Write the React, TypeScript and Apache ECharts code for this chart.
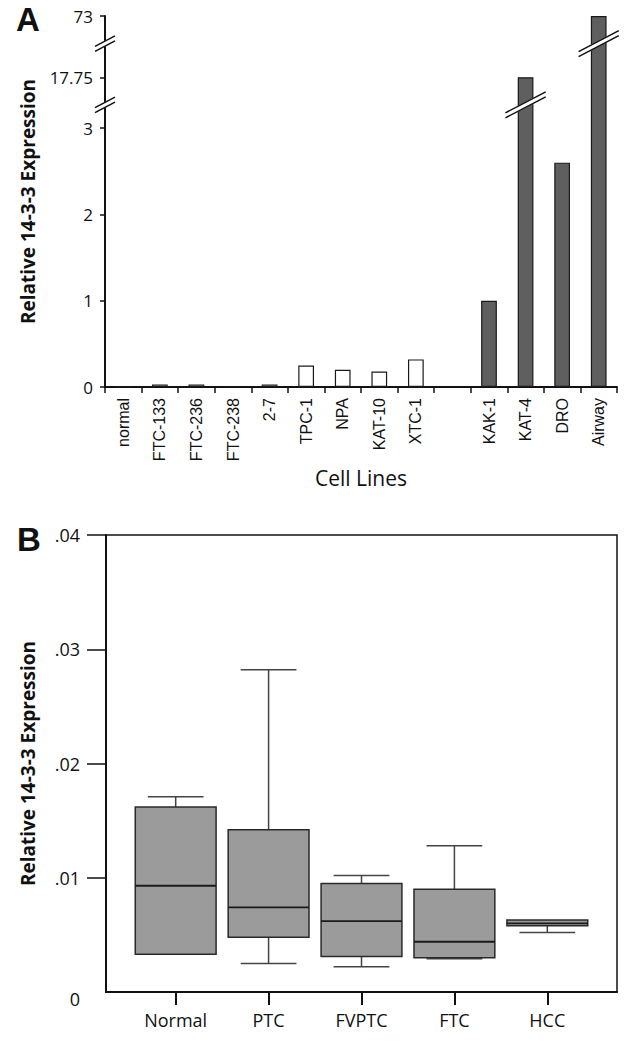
import React, { useEffect, useRef } from 'react';
import * as echarts from 'echarts';

// ---------- Panel A data ----------
const catsA = ['normal', 'FTC-133', 'FTC-236', 'FTC-238', '2-7', 'TPC-1', 'NPA', 'KAT-10', 'XTC-1', '', 'KAK-1', 'KAT-4', 'DRO', 'Airway'];
const valuesA: (number | null)[] = [0, 0.03, 0.03, 0, 0.03, 0.25, 0.2, 0.18, 0.32, null, 1.0, 17.75, 2.6, 73];
const groupA = ['open', 'open', 'open', 'open', 'open', 'open', 'open', 'open', 'open', '', 'solid', 'solid', 'solid', 'solid'];
const yTicksA = [0, 1, 2, 3, 17.75, 73];
const yTickLabelsA = ['0', '1', '2', '3', '17.75', '73'];

// ---------- Panel B data ----------
const catsB = ['Normal', 'PTC', 'FVPTC', 'FTC', 'HCC'];
const lowB = [0.0033, 0.0025, 0.0022, 0.0029, 0.0052];
const q1B = [0.0033, 0.0048, 0.0031, 0.0030, 0.0058];
const medB = [0.0093, 0.0074, 0.0062, 0.0044, 0.0060];
const q3B = [0.0162, 0.0142, 0.0095, 0.0090, 0.0063];
const highB = [0.0171, 0.0282, 0.0102, 0.0128, 0.0063];
const yTicksB = [0, 0.01, 0.02, 0.03, 0.04];
const yTickLabelsB = ['0', '.01', '.02', '.03', '.04'];

// ---------- broken-axis layout (value -> display position) ----------
const brokenAnchors: [number, number][] = [[0, 0], [3, 3], [17.75, 3.59], [73, 4.3]];
const breakPosA = [3.27, 3.98];

function disp(v: number): number {
  for (let i = 1; i < brokenAnchors.length; i++) {
    const [v0, d0] = brokenAnchors[i - 1];
    const [v1, d1] = brokenAnchors[i];
    if (v <= v1 || i === brokenAnchors.length - 1) {
      return d0 + ((v - v0) / (v1 - v0)) * (d1 - d0);
    }
  }
  return v;
}
const dispTicksA = yTicksA.map(disp);

function breakShape(cx: number, cy: number, h: number, gap: number, lw: number) {
  const dy = h * 0.52;
  const t0 = [cx - h, cy + dy - gap / 2];
  const t1 = [cx + h, cy - dy - gap / 2];
  const b0 = [cx - h, cy + dy + gap / 2];
  const b1 = [cx + h, cy - dy + gap / 2];
  return [
    { type: 'polygon', shape: { points: [t0, t1, b1, b0] }, style: { fill: '#fff', stroke: '#fff', lineWidth: 1 } },
    { type: 'line', shape: { x1: t0[0], y1: t0[1], x2: t1[0], y2: t1[1] }, style: { stroke: '#111', lineWidth: lw } },
    { type: 'line', shape: { x1: b0[0], y1: b0[1], x2: b1[0], y2: b1[1] }, style: { stroke: '#111', lineWidth: lw } },
  ];
}

const barBreaks: [number, number][] = [];
valuesA.forEach((v, i) => {
  if (v == null) return;
  const d = disp(v);
  const below = breakPosA.filter((b) => b < d);
  if (below.length) barBreaks.push([i, below[below.length - 1]]);
});

const SANS = "'Open Sans', 'Noto Sans', sans-serif";
const ARIAL = "'Liberation Sans', Arial, sans-serif";

const option: any = {
  animation: false,
  backgroundColor: '#fff',
  textStyle: { fontFamily: SANS, color: '#111' },
  grid: [
    { left: 105, top: 16, width: 512, height: 371 },
    { left: 106, top: 535, width: 511, height: 457, show: true, borderColor: '#111', borderWidth: 1.5, backgroundColor: 'transparent' },
  ],
  graphic: [
    { type: 'text', left: 16, top: 3, style: { text: 'A', font: `bold 33px ${ARIAL}`, fill: '#111' } },
    { type: 'text', left: 17, top: 523, style: { text: 'B', font: `bold 33px ${ARIAL}`, fill: '#111' } },
  ],
  xAxis: [
    {
      gridIndex: 0,
      type: 'category',
      data: catsA,
      boundaryGap: true,
      axisLine: { lineStyle: { color: '#111', width: 2 } },
      axisTick: { show: true, alignWithLabel: false, length: 6, lineStyle: { color: '#111', width: 1.5 } },
      axisLabel: { interval: 0, rotate: 90, margin: 11, fontFamily: ARIAL, fontSize: 16, color: '#111' },
      name: 'Cell Lines',
      nameLocation: 'middle',
      nameGap: 80,
      nameTextStyle: { fontFamily: SANS, fontSize: 21, color: '#111' },
    },
    {
      gridIndex: 1,
      type: 'value',
      min: -0.75,
      max: 4.75,
      splitLine: { show: false },
      axisLine: { onZero: false, lineStyle: { color: '#111', width: 2 } },
      axisTick: { show: true, customValues: [0, 1, 2, 3, 4], length: 13, lineStyle: { color: '#111', width: 2 } },
      axisLabel: {
        customValues: [0, 1, 2, 3, 4],
        margin: 19,
        fontFamily: SANS,
        fontSize: 18,
        color: '#111',
        formatter: (v: number) => catsB[Math.round(v)] ?? '',
      },
    },
  ],
  yAxis: [
    {
      gridIndex: 0,
      type: 'value',
      min: 0,
      max: disp(73),
      splitLine: { show: false },
      axisLine: { show: true, lineStyle: { color: '#111', width: 2 } },
      axisTick: { show: true, customValues: dispTicksA, length: 5, lineStyle: { color: '#111', width: 1.5 } },
      axisLabel: {
        customValues: dispTicksA,
        margin: 12,
        fontFamily: SANS,
        fontSize: 17,
        color: '#111',
        formatter: (v: number) => {
          const i = dispTicksA.findIndex((d) => Math.abs(d - v) < 1e-6);
          return i >= 0 ? yTickLabelsA[i] : '';
        },
      },
      name: 'Relative 14-3-3 Expression',
      nameLocation: 'middle',
      nameGap: 68,
      nameTextStyle: { fontFamily: SANS, fontSize: 19, fontWeight: 'bold', color: '#111' },
    },
    {
      gridIndex: 1,
      type: 'value',
      min: 0,
      max: 0.04,
      splitLine: { show: false },
      axisLine: { show: true, onZero: false, lineStyle: { color: '#111', width: 2 } },
      axisTick: { show: true, customValues: yTicksB.filter((v) => v > 0), length: 19, lineStyle: { color: '#111', width: 1.5 } },
      axisLabel: {
        customValues: yTicksB,
        margin: 26,
        fontFamily: SANS,
        fontSize: 18,
        color: '#111',
        formatter: (v: number) => {
          const i = yTicksB.findIndex((d) => Math.abs(d - v) < 1e-9);
          if (i === 0) return '{z|' + yTickLabelsB[0] + '}';
          return i >= 0 ? yTickLabelsB[i] : '';
        },
        rich: { z: { padding: [14, 0, 0, 0], fontFamily: SANS, fontSize: 18, color: '#111' } },
      },
      name: 'Relative 14-3-3 Expression',
      nameLocation: 'middle',
      nameGap: 69,
      nameTextStyle: { fontFamily: SANS, fontSize: 19, fontWeight: 'bold', color: '#111' },
    },
  ],
  series: [
    {
      type: 'bar',
      xAxisIndex: 0,
      yAxisIndex: 0,
      barWidth: '43%',
      data: valuesA.map((v, i) =>
        v == null
          ? null
          : {
              value: disp(v),
              itemStyle: {
                color: groupA[i] === 'solid' ? '#5f5f5f' : '#ffffff',
                borderColor: '#1a1a1a',
                borderWidth: 1.2,
              },
            }
      ),
    },
    {
      type: 'custom',
      xAxisIndex: 0,
      yAxisIndex: 0,
      clip: false,
      z: 10,
      data: barBreaks,
      encode: { x: 0, y: 1 },
      renderItem: (params: any, api: any) => {
        const p = api.coord([api.value(0), api.value(1)]);
        const band = api.size([1, 0])[0];
        return { type: 'group', children: breakShape(p[0], p[1], band * 0.55, 5, 1.5) };
      },
    },
    {
      type: 'custom',
      xAxisIndex: 0,
      yAxisIndex: 0,
      clip: false,
      z: 10,
      data: breakPosA.map((b) => [0, b]),
      encode: { x: 0, y: 1 },
      renderItem: (params: any, api: any) => {
        const p = api.coord([0, api.value(1)]);
        const x = params.coordSys.x;
        return { type: 'group', children: breakShape(x, p[1], 10, 5, 1.5) };
      },
    },
    {
      type: 'custom',
      xAxisIndex: 1,
      yAxisIndex: 1,
      data: catsB.map((_, i) => [i, lowB[i], q1B[i], medB[i], q3B[i], highB[i]]),
      encode: { x: 0, y: [1, 2, 3, 4, 5] },
      renderItem: (params: any, api: any) => {
        const x = api.value(0);
        const lo = api.value(1), q1 = api.value(2), md = api.value(3), q3 = api.value(4), hi = api.value(5);
        const cx = api.coord([x, md])[0];
        const yLo = api.coord([x, lo])[1];
        const yQ1 = api.coord([x, q1])[1];
        const yMd = api.coord([x, md])[1];
        const yQ3 = api.coord([x, q3])[1];
        const yHi = api.coord([x, hi])[1];
        const bw = api.size([0.87, 0])[0];
        const cw = api.size([0.6, 0])[0];
        const wStyle = { stroke: '#444', lineWidth: 1.5 };
        const children: any[] = [];
        if (hi > q3) {
          children.push({ type: 'line', shape: { x1: cx, y1: yQ3, x2: cx, y2: yHi }, style: wStyle });
          children.push({ type: 'line', shape: { x1: cx - cw / 2, y1: yHi, x2: cx + cw / 2, y2: yHi }, style: wStyle });
        }
        if (lo < q1) {
          children.push({ type: 'line', shape: { x1: cx, y1: yQ1, x2: cx, y2: yLo }, style: wStyle });
          children.push({ type: 'line', shape: { x1: cx - cw / 2, y1: yLo, x2: cx + cw / 2, y2: yLo }, style: wStyle });
        }
        children.push({
          type: 'rect',
          shape: { x: cx - bw / 2, y: yQ3, width: bw, height: yQ1 - yQ3 },
          style: { fill: '#9b9b9b', stroke: '#2a2a2a', lineWidth: 1.5 },
        });
        children.push({ type: 'line', shape: { x1: cx - bw / 2, y1: yMd, x2: cx + bw / 2, y2: yMd }, style: { stroke: '#1a1a1a', lineWidth: 1.8 } });
        return { type: 'group', children };
      },
    },
  ],
};

export default function App() {
  const ref = useRef<HTMLDivElement>(null);
  useEffect(() => {
    if (!ref.current) return;
    const chart = echarts.init(ref.current, null, { renderer: 'svg', width: 634, height: 1050 });
    chart.setOption(option);
    return () => chart.dispose();
  }, []);
  return (
    <div
      ref={ref}
      style={{ position: 'absolute', left: 0, top: 0, width: 634, height: 1050, background: '#fff' }}
    />
  );
}
